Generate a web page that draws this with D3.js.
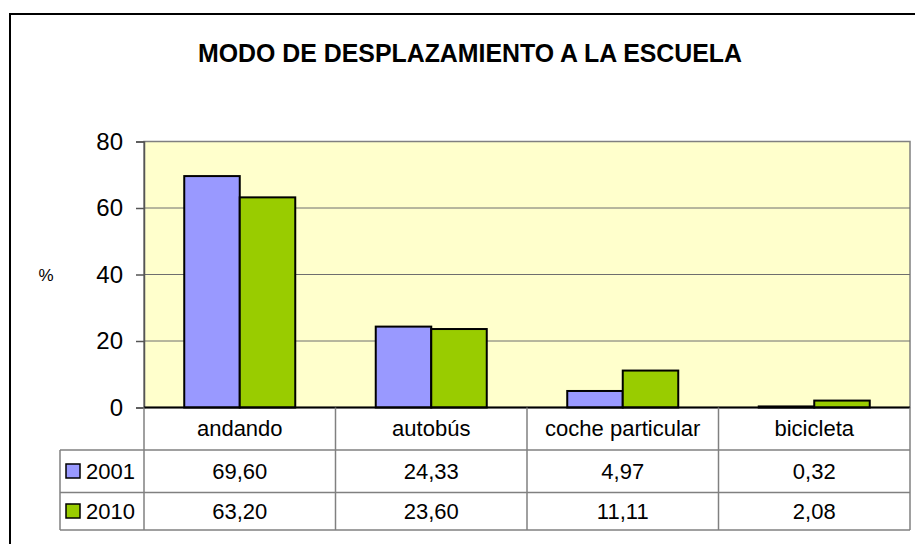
<!DOCTYPE html>
<html>
<head>
<meta charset="utf-8">
<script src="https://cdn.jsdelivr.net/npm/d3@7"></script>
<style>
  body { margin: 0; background: #fff; }
  text { font-family: "Liberation Sans", Arial, sans-serif; fill: #000; }
</style>
</head>
<body>
<div class="content"></div>
<script>
const W = 915, H = 544;
const categories = ["andando", "autobús", "coche particular", "bicicleta"];
const seriesNames = ["2001", "2010"];
const values2001 = [69.60, 24.33, 4.97, 0.32];
const values2010 = [63.20, 23.60, 11.11, 2.08];
const yTicks = [0, 20, 40, 60, 80];
const colors = ["#9999ff", "#99cc00"];

const svg = d3.select(".content").append("svg").attr("width", W).attr("height", H);

// outer chart frame (runs off the right and bottom edges)
svg.append("rect").attr("x", 10).attr("y", 14).attr("width", 950).attr("height", 600)
   .attr("fill", "#fff").attr("stroke", "#000").attr("stroke-width", 2);

// title
svg.append("text").attr("x", 470).attr("y", 62).attr("text-anchor", "middle")
   .attr("font-size", 26).attr("font-weight", "bold")
   .attr("textLength", 544).attr("lengthAdjust", "spacingAndGlyphs")
   .text("MODO DE DESPLAZAMIENTO A LA ESCUELA");

const plotL = 144, plotR = 910, plotT = 141.5, plotB = 407.5;

const x = d3.scaleBand().domain(categories).range([plotL, plotR]);
const y = d3.scaleLinear().domain([0, 80]).range([plotB, plotT]);
const sub = d3.scaleBand().domain(seriesNames).range([0, x.bandwidth()])
              .paddingInner(0).paddingOuter(0.725);

// plot background
svg.append("rect").attr("x", plotL).attr("y", plotT).attr("width", plotR - plotL).attr("height", plotB - plotT)
   .attr("fill", "#ffffcc").attr("stroke", "#808080").attr("stroke-width", 1.5);

// gridlines
svg.append("g").selectAll("line").data(yTicks.filter(d => d > 0 && d < 80)).join("line")
   .attr("x1", plotL).attr("x2", plotR).attr("y1", d => y(d)).attr("y2", d => y(d))
   .attr("stroke", "#6e6e6e").attr("stroke-width", 1);

// y axis
const yAxis = svg.append("g").attr("transform", `translate(${plotL},0)`)
   .call(d3.axisLeft(y).tickValues(yTicks).tickSize(8).tickPadding(13));
yAxis.select(".domain").attr("stroke", "#555").attr("stroke-width", 1.5);
yAxis.selectAll(".tick line").attr("stroke", "#555").attr("stroke-width", 1.5);
yAxis.selectAll(".tick text").attr("font-size", 24).attr("font-family", "Liberation Sans, Arial, sans-serif").attr("fill", "#000");

svg.append("text").attr("x", 46).attr("y", 281).attr("text-anchor", "middle").attr("font-size", 17).text("%");

// bars
const data = categories.map((c, i) => ({ cat: c, vals: [values2001[i], values2010[i]] }));
svg.append("g").selectAll("g").data(data).join("g")
   .attr("transform", d => `translate(${x(d.cat)},0)`)
   .selectAll("rect").data(d => d.vals.map((v, j) => ({ key: seriesNames[j], v, j }))).join("rect")
   .attr("x", d => sub(d.key)).attr("width", sub.bandwidth())
   .attr("y", d => y(d.v)).attr("height", d => y(0) - y(d.v))
   .attr("fill", d => colors[d.j]).attr("stroke", "#000").attr("stroke-width", 2);

// x baseline
svg.append("line").attr("x1", plotL).attr("x2", plotR).attr("y1", plotB).attr("y2", plotB)
   .attr("stroke", "#000").attr("stroke-width", 2);

// data table
const rowLines = [450, 492.5, 530];
const tableL = 60;
const grid = svg.append("g").attr("stroke", "#808080").attr("stroke-width", 1.5);
grid.selectAll(".h").data(rowLines).join("line")
   .attr("x1", tableL).attr("x2", plotR).attr("y1", d => d).attr("y2", d => d);
grid.selectAll(".v").data(categories.map(c => x(c)).concat([plotR])).join("line")
   .attr("x1", d => d).attr("x2", d => d).attr("y1", plotB).attr("y2", 530);
grid.append("line").attr("x1", tableL).attr("x2", tableL).attr("y1", 450).attr("y2", 530);

svg.append("g").selectAll("text").data(categories).join("text")
   .attr("x", d => x(d) + x.bandwidth() / 2).attr("y", 436).attr("text-anchor", "middle")
   .attr("font-size", 22).text(d => d);

const fmt = v => v.toFixed(2).replace(".", ",");
const rowBase = [479, 519];
[values2001, values2010].forEach((vals, r) => {
  svg.append("g").selectAll("text").data(vals).join("text")
     .attr("x", (d, i) => x(categories[i]) + x.bandwidth() / 2).attr("y", rowBase[r])
     .attr("text-anchor", "middle").attr("font-size", 22).text(d => fmt(d));
  svg.append("rect").attr("x", 66).attr("y", rowBase[r] - 15).attr("width", 14).attr("height", 14)
     .attr("fill", colors[r]).attr("stroke", "#000").attr("stroke-width", 1.5);
  svg.append("text").attr("x", 86).attr("y", rowBase[r]).attr("font-size", 22).text(seriesNames[r]);
});
</script>
</body>
</html>
